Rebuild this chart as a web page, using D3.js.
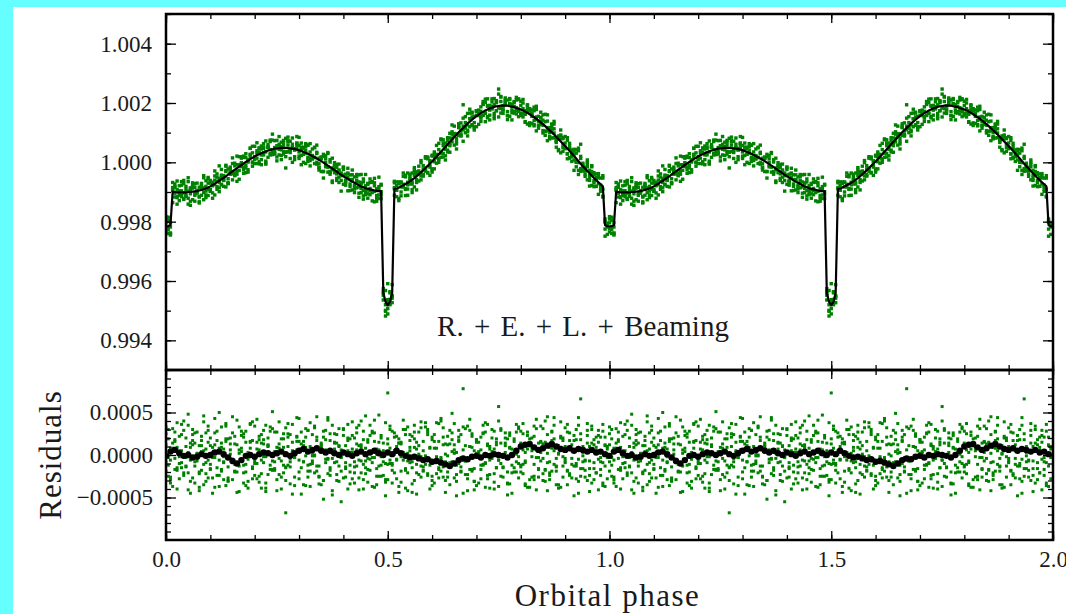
<!DOCTYPE html>
<html>
<head>
<meta charset="utf-8">
<script src="https://cdn.jsdelivr.net/npm/d3@7"></script>
<style>
  html, body { margin: 0; padding: 0; background: #66ffff; }
  svg { display: block; }
  text { font-family: "Liberation Serif", "DejaVu Serif", serif; fill: #1a1a1a; }
</style>
</head>
<body>
<svg id="chart" width="1066" height="614"></svg>
<script>
// Model light curve, flux - 1 in units of 1e-5, one value per 0.005 in phase
var modelStep = 0.005;
var modelFlux = [
  -216,-215,-212,-99,-100,-101,-101,-101,-101,-101,
  -100,-100,-99,-98,-97,-95,-93,-91,-88,-85,
  -81,-76,-72,-67,-62,-57,-52,-47,-41,-36,
  -30,-25,-20,-14,-9,-4,1,6,11,15,
  20,24,27,31,34,37,40,42,44,46,
  47,48,49,49,49,48,47,46,45,43,
  41,38,35,32,29,25,21,17,13,8,
  4,-1,-6,-11,-16,-21,-26,-31,-37,-42,
  -47,-51,-56,-61,-65,-69,-73,-77,-81,-84,
  -87,-89,-91,-93,-95,-96,-97,-97,-440,-470,
  -482,-470,-440,-90,-88,-85,-81,-77,-73,-69,
  -64,-58,-53,-47,-40,-33,-27,-19,-12,-4,
  3,11,19,27,36,44,52,61,69,77,
  85,93,101,109,116,123,131,137,144,150,
  156,161,166,170,175,178,182,184,187,189,
  190,191,191,191,191,189,188,186,183,181,
  178,175,171,167,162,157,152,147,141,135,
  129,122,115,108,101,94,86,78,70,63,
  55,47,38,30,21,13,4,-5,-13,-21,
  -29,-37,-45,-53,-60,-67,-74,-81,-212,-215
];

// Residuals (data - model), 1e-5 units, same phase grid as the model
var resid1 = [
  12,-25,8,31,-4,-18,22,-9,40,-13,3,-31,17,26,-7,-42,11,5,-22,34,-16,9,-3,28,-37,14,-8,19,-27,6,45,-11,-20,2,23,-33,15,-5,36,-14,
  -24,7,18,-39,29,-2,10,-17,51,-8,-29,13,4,-21,32,-12,24,-46,1,16,-6,27,-35,9,-19,38,-10,-1,21,-26,14,-30,6,41,-15,-4,25,-23,11,-55,
  30,-9,17,3,-28,20,-13,35,-7,-40,8,15,-18,26,-3,-25,47,-12,5,-32,19,-6,28,-21,10,-44,13,2,-16,33,-9,22,-30,7,-1,39,-19,-11,24,-5,
  -36,16,8,-27,43,-14,1,-20,29,-8,12,-48,21,-3,6,-23,34,-17,9,-31,18,4,-12,25,-38,11,-6,30,-22,15,57,-10,-26,3,19,-34,7,-15,27,-2,
  -20,37,-9,13,-29,5,22,-41,14,-7,31,-18,2,-24,17,44,-13,-35,9,20,-4,-19,26,-11,6,-28,35,-16,10,-6,23,-43,4,18,-21,29,-8,-33,12,1
];
var resid2 = [
  -8,19,-33,4,27,-15,-2,36,-21,10,48,-6,-27,14,1,-38,22,-11,7,29,-17,-45,12,3,-24,33,-9,16,-30,20,-5,-19,41,-13,8,25,-36,-1,15,-28,
  34,-10,6,-22,18,-43,11,28,-7,-16,2,39,-26,9,-14,21,-34,5,-3,44,-20,13,-8,31,-12,-37,24,0,17,-25,10,-52,29,-4,-18,35,-9,14,-31,6,
  23,-14,-40,19,7,-21,32,-6,12,-29,46,-17,3,-9,26,-35,15,-2,-24,38,-11,8,-33,21,-5,14,-19,30,-39,2,17,-8,27,-46,11,-13,5,33,-22,9,
  -30,24,-4,-15,40,-26,13,-1,-35,18,6,-12,29,-20,78,-7,-28,10,22,-41,15,-3,-17,26,-10,36,-23,4,-32,12,-6,31,-14,20,-47,8,-21,16,1,-27,
  28,-11,-34,7,19,-2,-25,42,-16,3,13,-31,24,-8,-19,35,-4,11,-38,17,-9,27,-22,5,-13,30,-45,18,-1,-26,37,-7,14,-29,9,23,-17,-36,21,-3
];
var resid3 = [
  25,-3,-29,14,-17,38,-10,5,-24,20,-41,9,30,-13,2,-22,17,-35,26,-6,11,-27,43,-15,8,-19,-2,34,-31,13,-9,22,-44,6,28,-12,-20,3,37,-16,
  -1,15,-32,24,-9,-39,12,33,-18,4,27,-23,-7,19,-68,10,-14,36,-3,21,-28,7,16,-36,29,-11,2,-21,45,-13,8,-30,18,-5,25,-42,14,-8,31,-19,
  4,-26,20,-12,39,-33,6,11,-21,28,-15,-4,35,-37,16,1,-25,23,-8,-48,13,30,-10,5,-28,19,-2,41,-18,-7,24,-34,9,15,-23,32,-14,-1,27,-40,
  18,-9,-22,37,-5,12,-30,22,-13,49,-27,3,16,-19,-6,31,-42,10,25,-16,2,-33,21,-11,38,-24,7,-4,28,-15,-37,14,-1,26,-20,9,-45,19,-8,33,
  -12,6,-36,23,11,-26,34,-3,-17,15,-30,40,-9,-21,27,5,-14,-39,20,-2,32,-18,8,-27,17,-10,44,-25,3,-7,29,-16,-33,12,21,-5,-24,36,-13,10
];
var resid4 = [
  -19,30,-6,-37,16,9,-28,24,-2,-14,35,-45,12,-8,27,-20,4,39,-31,15,-11,-3,26,-24,50,-17,7,-36,19,1,-29,13,-10,33,-5,-21,28,-39,8,17,
  -7,42,-25,14,-2,-33,20,-12,31,-18,9,-4,-40,25,-15,37,-8,3,-26,22,16,-46,11,-1,29,-19,-7,34,-13,6,-35,21,-9,44,-24,2,15,-30,10,-3,
  31,-16,5,-34,23,-8,13,-27,40,-11,-22,18,-5,28,-38,7,-13,20,-1,-29,73,-10,-18,26,-6,14,-32,3,24,-42,9,-15,35,-21,1,-26,16,-4,30,-12,
  -25,8,38,-17,-3,21,-44,12,-9,26,2,-31,17,-14,33,-7,-23,42,-19,5,-36,15,6,-12,27,-28,10,-2,-40,19,-6,29,-15,11,-33,23,-1,-20,36,-10,
  14,-22,3,27,-38,9,-11,31,-26,16,-4,-17,45,-29,8,19,-35,1,22,-13,-7,36,-24,12,-48,18,-5,25,-16,4,-30,10,34,-9,-21,15,-3,28,-37,7
];
var resid5 = [
  33,-12,-26,8,18,-40,5,-15,29,-3,-21,14,24,-33,-1,11,-18,46,-9,-27,20,3,-38,17,-6,9,-29,37,-14,-4,26,-20,12,-43,4,21,-11,-31,16,39,
  -10,-28,22,-6,13,35,-23,1,-17,27,-42,8,19,-12,-30,25,-4,15,-36,6,43,-15,-8,21,-26,10,-1,32,-19,-34,12,28,-5,-22,17,-47,7,24,-13,-2,
  -27,11,36,-20,3,-14,26,-41,9,18,-7,-32,23,-3,41,-16,6,-25,14,-10,-29,34,-12,1,22,-37,15,-6,30,-21,5,-44,19,-11,27,-2,-18,38,-24,8,
  21,-33,-2,16,-19,32,-8,-26,13,4,37,-23,-10,24,-45,11,-5,29,-17,-31,18,2,-28,35,-9,13,-39,20,7,-15,40,-25,-1,14,-34,26,-12,3,-20,31,
  -14,25,-7,-38,12,20,-29,6,-3,34,-22,15,-42,9,28,-11,-19,2,39,-26,10,-35,17,-4,23,-13,-31,66,-8,-18,14,-24,30,-16,5,-41,21,-9,11,-28
];
var residSets = [resid1, resid2, resid3, resid4, resid5];

// Binned residuals, 1e-5 units, one value per 0.01 in phase
var binStep = 0.01;
var binnedResid = [
  -1,4,6,2,-1,0,-3,-2,1,-1,
  0,3,4,1,-3,-7,-10,-6,-1,0,
  -2,1,3,2,0,2,4,1,-1,2,
  5,7,4,6,8,5,3,5,2,0,
  3,1,-1,2,4,1,3,5,2,0,
  3,1,5,2,-1,-3,-2,-4,-6,-5,
  -8,-7,-9,-11,-13,-10,-6,-4,-5,-2,
  -1,-3,0,-1,1,0,-1,-3,0,5,
  10,12,13,9,6,8,11,13,10,7,
  6,8,5,7,6,4,6,3,4,1
];

// Phase folding is shown twice
var cycles = [0, 1];

// Tick values
var phaseMajor = [0, 0.5, 1, 1.5, 2];
var phaseMinor = d3.range(0, 2.001, 0.1);
var fluxMajor = [0.994, 0.996, 0.998, 1.000, 1.002, 1.004];
var fluxMinor = d3.range(0.993, 1.0051, 0.001);
var residMajor = [-0.0005, 0, 0.0005];
var residMinor = d3.range(-0.0009, 0.00091, 0.0001);

var UNIT = 1e-5;
var green = '#008000';

// Frame
var L = 166, R = 1053, T = 14, MID = 370, B = 540;
var svg = d3.select('#chart');

// white page with cyan strips on top and left
svg.append('rect').attr('x', 13).attr('y', 7).attr('width', 1066 - 13).attr('height', 614 - 7).attr('fill', '#ffffff');

var x = d3.scaleLinear().domain([0, 2]).range([L, R]);
var yTop = d3.scaleLinear().domain([0.993, 1.005]).range([MID, T]);
var yRes = d3.scaleLinear().domain([-0.001, 0.001]).range([B, MID]);

// Build the folded data points
var points = [];
cycles.forEach(function (c) {
  modelFlux.forEach(function (m, i) {
    residSets.forEach(function (rs) {
      if (i < rs.length) {
        points.push({ phase: c + i * modelStep, flux: 1 + (m + rs[i]) * UNIT, resid: rs[i] * UNIT });
      }
    });
  });
});

var modelPts = [];
cycles.forEach(function (c) {
  modelFlux.forEach(function (m, i) {
    modelPts.push({ phase: c + i * modelStep, flux: 1 + m * UNIT });
  });
});
modelPts.push({ phase: 2, flux: 1 + modelFlux[0] * UNIT });

var binPts = [];
cycles.forEach(function (c) {
  binnedResid.forEach(function (v, i) {
    binPts.push({ phase: c + i * binStep, resid: v * UNIT });
  });
});

// Clip paths for the two panels
var defs = svg.append('defs');
defs.append('clipPath').attr('id', 'clipTop')
  .append('rect').attr('x', L).attr('y', T).attr('width', R - L).attr('height', MID - T);
defs.append('clipPath').attr('id', 'clipRes')
  .append('rect').attr('x', L).attr('y', MID).attr('width', R - L).attr('height', B - MID);

/***** Top panel: light curve *****/
var topG = svg.append('g').attr('clip-path', 'url(#clipTop)');
topG.selectAll('.pt')
  .data(points).enter()
  .append('rect')
  .attr('class', 'pt')
  .attr('x', function (d) { return x(d.phase) - 1.7; })
  .attr('y', function (d) { return yTop(d.flux) - 1.7; })
  .attr('width', 3.4).attr('height', 3.4)
  .attr('fill', green);

var line = d3.line()
  .x(function (d) { return x(d.phase); })
  .y(function (d) { return yTop(d.flux); });
topG.append('path')
  .datum(modelPts)
  .attr('d', line)
  .attr('fill', 'none')
  .attr('stroke', '#000')
  .attr('stroke-width', 2.2)
  .attr('stroke-linejoin', 'round');

/***** Bottom panel: residuals *****/
var resG = svg.append('g').attr('clip-path', 'url(#clipRes)');
resG.selectAll('.rp')
  .data(points).enter()
  .append('rect')
  .attr('class', 'rp')
  .attr('x', function (d) { return x(d.phase) - 1.5; })
  .attr('y', function (d) { return yRes(d.resid) - 1.5; })
  .attr('width', 3).attr('height', 3)
  .attr('fill', green);

resG.selectAll('.bin')
  .data(binPts).enter()
  .append('circle')
  .attr('class', 'bin')
  .attr('cx', function (d) { return x(d.phase); })
  .attr('cy', function (d) { return yRes(d.resid); })
  .attr('r', 3.2)
  .attr('fill', '#000');

// Ticks on all four sides, pointing inwards
function drawTicks(yScale, y0, y1, yMajor, yMinor, yFmt, yPad, xLabels) {
  [d3.axisLeft(yScale).tickValues(yMajor).tickSizeInner(-10).tickPadding(yPad).tickFormat(yFmt),
   d3.axisLeft(yScale).tickValues(yMinor).tickSizeInner(-5).tickFormat('')].forEach(function (a) {
    svg.append('g').attr('class', 'axis').attr('transform', 'translate(' + L + ',0)').call(a.tickSizeOuter(0));
  });
  [d3.axisRight(yScale).tickValues(yMajor).tickSizeInner(-10).tickFormat(''),
   d3.axisRight(yScale).tickValues(yMinor).tickSizeInner(-5).tickFormat('')].forEach(function (a) {
    svg.append('g').attr('class', 'axis').attr('transform', 'translate(' + R + ',0)').call(a.tickSizeOuter(0));
  });
  [d3.axisTop(x).tickValues(phaseMajor).tickSizeInner(-9).tickFormat(''),
   d3.axisTop(x).tickValues(phaseMinor).tickSizeInner(-5).tickFormat('')].forEach(function (a) {
    svg.append('g').attr('class', 'axis').attr('transform', 'translate(0,' + y0 + ')').call(a.tickSizeOuter(0));
  });
  [d3.axisBottom(x).tickValues(phaseMajor).tickSizeInner(-9).tickPadding(11).tickFormat(xLabels ? d3.format('.1f') : ''),
   d3.axisBottom(x).tickValues(phaseMinor).tickSizeInner(-5).tickFormat('')].forEach(function (a) {
    svg.append('g').attr('class', 'axis').attr('transform', 'translate(0,' + y1 + ')').call(a.tickSizeOuter(0));
  });
}

drawTicks(yTop, T, MID, fluxMajor, fluxMinor, d3.format('.3f'), 14, false);
drawTicks(yRes, MID, B, residMajor, residMinor, d3.format('.4f'), 13, true);

svg.selectAll('.axis .domain').remove();
svg.selectAll('.axis line').attr('stroke', '#000').attr('stroke-width', 1.3);
svg.selectAll('.axis text').style('font-size', '23px');

// Panel borders
svg.append('rect').attr('x', L).attr('y', T).attr('width', R - L).attr('height', MID - T)
  .attr('fill', 'none').attr('stroke', '#000').attr('stroke-width', 2.5);
svg.append('rect').attr('x', L).attr('y', MID).attr('width', R - L).attr('height', B - MID)
  .attr('fill', 'none').attr('stroke', '#000').attr('stroke-width', 2.5);

// Labels
svg.append('text')
  .attr('x', 583).attr('y', 336)
  .attr('text-anchor', 'middle')
  .style('font-size', '29px')
  .style('word-spacing', '3px')
  .text('R. + E. + L. + Beaming');

svg.append('text')
  .attr('x', (L + R) / 2 - 2).attr('y', 606)
  .attr('text-anchor', 'middle')
  .style('font-size', '31px')
  .style('letter-spacing', '1.5px')
  .text('Orbital phase');

svg.append('text')
  .attr('transform', 'translate(61,' + yRes(0) + ') rotate(-90)')
  .attr('text-anchor', 'middle')
  .style('font-size', '31px')
  .style('letter-spacing', '1px')
  .text('Residuals');
</script>
</body>
</html>
